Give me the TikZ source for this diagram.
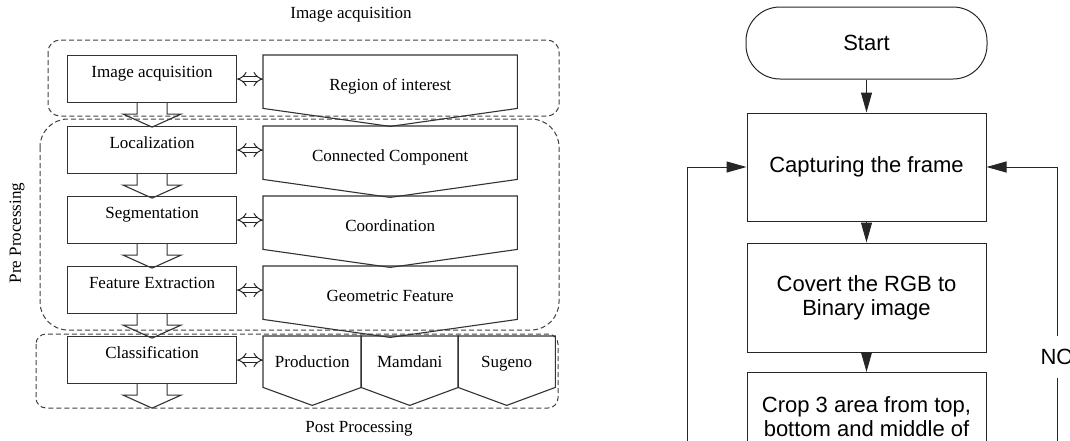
\documentclass[tikz,border=0pt]{standalone}
\usepackage{fontspec}
\setmainfont{Liberation Serif}
\newfontfamily\arialfont{Liberation Sans}
\usetikzlibrary{arrows.meta}

\begin{document}
\begin{tikzpicture}[x=1pt, y=-1pt,
  ttl/.style={font=\fontsize{17}{20}\selectfont},
  lbox/.style={draw=black!80, line width=1.1pt, inner sep=0pt, anchor=north west, minimum width=169pt, text height=22pt, text depth=25pt, ttl},
  pent/.style={inner sep=0pt, anchor=north west, minimum width=254pt, text height=35pt, text depth=18pt, ttl},
  pentline/.style={draw=black!80, line width=1.1pt},
  grp/.style={draw=black!75, line width=1pt, dash pattern=on 5pt off 3pt},
  dbl/.style={draw=black!85, double, double distance=4pt, line width=1pt, {Implies}-{Implies}},
  blk/.style={draw=black!80, line width=1.1pt},
  fbox/.style={draw=black!85, line width=1pt, inner sep=0pt, minimum width=239pt, align=center, font=\arialfont\fontsize{22}{24}\selectfont},
  farrow/.style={draw=black!85, line width=1pt, -{Triangle[length=20pt, width=11pt]}}]
\clip (0,0) rectangle (1070,440);
\draw[grp, rounded corners=12pt] (48,40) rectangle (559,116);
\draw[grp, rounded corners=28pt] (40,119) rectangle (559,330);
\draw[grp, rounded corners=10pt] (36,334) rectangle (558,408);
\node[ttl] (G1Ttop) at (351,15) {Image acquisition};
\node[ttl, rotate=90] (G1Tpre) at (17,233) {Pre Processing};
\node[ttl] (G1Tpost) at (359,429) {Post Processing};
\node[lbox] (G1NIA) at (67,55) {Image acquisition};
\node[lbox] (G1NLoc) at (67,126) {Localization};
\node[lbox] (G1NSeg) at (67,196) {Segmentation};
\node[lbox] (G1NFE) at (67,266) {Feature Extraction};
\node[lbox] (G1NCls) at (67,336) {Classification};
\node[pent] (G1PROI) at (263,55) {Region of interest};
\node[pent] (G1PCC) at (263,126) {Connected Component};
\node[pent] (G1PCo) at (263,196) {Coordination};
\node[pent] (G1PGF) at (263,266) {Geometric Feature};
\node[pent, minimum width=98pt, text height=31pt, text depth=20pt] (G1PPr) at (263,336) {Production};
\node[pent, minimum width=97pt, text height=31pt, text depth=20pt] (G1PMa) at (361,336) {Mamdani};
\node[pent, minimum width=97pt, text height=31pt, text depth=20pt] (G1PSu) at (458,336) {Sugeno};
\foreach \p in {G1PROI, G1PCC, G1PCo, G1PGF, G1PPr, G1PMa, G1PSu}
  \draw[pentline] (\p.north west) -- (\p.north east) -- (\p.south east) -- ([yshift=-18pt]\p.south) -- (\p.south west) -- cycle;
\foreach \a in {G1NIA, G1NLoc, G1NSeg, G1NFE, G1NCls}
  \draw[blk] ([xshift=-15pt]\a.south) -- ++(0,11) -- ++(-14,0) -- ++(29,13) -- ++(29,-13) -- ++(-14,0) -- ++(0,-11);
\foreach \a/\b in {G1NIA/G1PROI, G1NLoc/G1PCC, G1NSeg/G1PCo, G1NFE/G1PGF, G1NCls/G1PPr}
  \draw[dbl] (\a.east) -- (\a.east -| \b.west);
\node[fbox, minimum width=241pt, minimum height=72pt, rounded corners=34pt] (G2NStart) at (866.5,43) {Start};
\node[fbox, minimum height=108pt] (G2NCap) at (866.5,167) {Capturing the frame};
\node[fbox, minimum height=109pt] (G2NBin) at (866.5,297.5) {Covert the RGB to\\Binary image};
\node[fbox, minimum height=88pt, anchor=north] (G2NCrop) at (866.5,372) {Crop 3 area from top,\\bottom and middle of};
\coordinate (G2Cl) at (687,450);
\coordinate (G2Cr) at (1057,450);
\draw[farrow] (G2NStart) -- (G2NCap);
\draw[farrow] (G2NCap) -- (G2NBin);
\draw[farrow] (G2NBin) -- (G2NCrop);
\draw[farrow] (G2Cl) |- (G2NCap.west);
\draw[farrow] (G2Cr) |- (G2NCap.east);
\node[fill=white, inner xsep=2pt, minimum height=42pt, font=\arialfont\fontsize{22}{24}\selectfont] (G2NNo) at (1057,357) {NO};
\end{tikzpicture}
\end{document}
